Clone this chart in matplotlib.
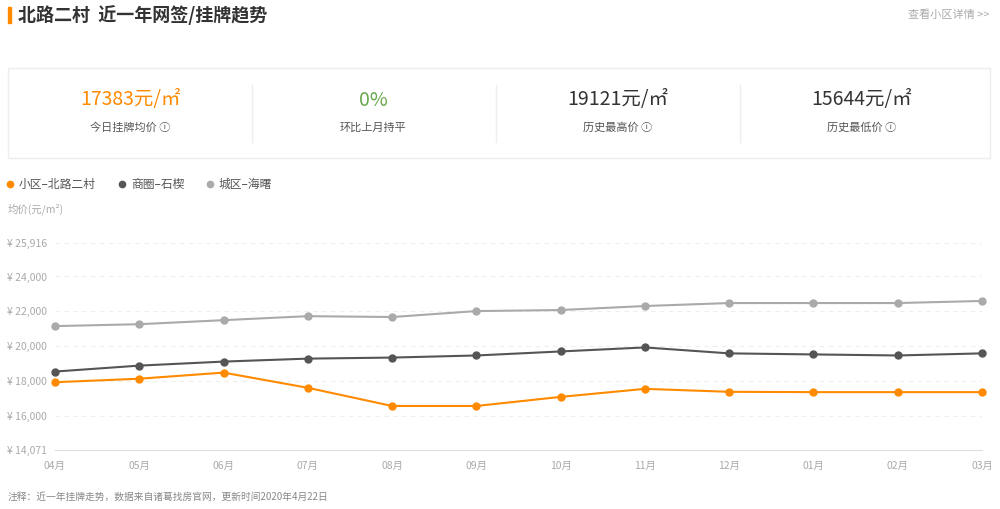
import matplotlib
matplotlib.use("Agg")
import matplotlib.pyplot as plt
from matplotlib.patches import Rectangle

plt.rcParams['font.family'] = ['Noto Sans CJK SC', 'DejaVu Sans']

months = ["04月","05月","06月","07月","08月","09月","10月","11月","12月","01月","02月","03月"]
community = [17950,18150,18500,17630,16590,16590,17110,17570,17400,17383,17383,17383]
district = [18560,18900,19130,19300,19360,19480,19710,19940,19600,19540,19480,19600]
city = [21160,21270,21500,21730,21680,22020,22080,22310,22480,22480,22480,22600]
yticks = [14071,16000,18000,20000,22000,24000,25916]
stat_values = ["17383元/㎡","0%","19121元/㎡","15644元/㎡"]
stat_labels = ["今日挂牌均价 ⓘ","环比上月持平","历史最高价 ⓘ","历史最低价 ⓘ"]
stat_colors = ["#ff8a00","#6aa84f","#333333","#333333"]

W, H = 1000, 509
fig = plt.figure(figsize=(10, 5.09), dpi=100)
def fx(x): return x / W
def fy(y): return 1 - y / H

fig.add_artist(Rectangle((fx(8), fy(23)), 3/W, 16/H, color="#ff8a00", transform=fig.transFigure))
fig.text(fx(18), fy(15), "北路二村  近一年网签/挂牌趋势", fontsize=13, color="#333333", va="center", weight="bold")
fig.text(fx(990), fy(15), "查看小区详情 >>", fontsize=8, color="#aaaaaa", va="center", ha="right")
fig.add_artist(Rectangle((fx(8), fy(158)), 982/W, 90/H, fill=False, edgecolor="#eeeeee", lw=1, transform=fig.transFigure))
centers = [130, 373, 618, 862]
for i, c in enumerate(centers):
    fig.text(fx(c), fy(100), stat_values[i], fontsize=14, color=stat_colors[i], ha="center", va="center")
    fig.text(fx(c), fy(128), stat_labels[i], fontsize=8, color="#555555", ha="center", va="center")
for xd in [252, 496, 740]:
    fig.add_artist(plt.Line2D([fx(xd), fx(xd)], [fy(85), fy(142)], color="#eeeeee", lw=1))

# legend
leg = [("小区–北路二村", "#ff8a00", 10), ("商圈–石楔", "#555555", 122), ("城区–海曙", "#aaaaaa", 210)]
for name, col, x in leg:
    fig.add_artist(plt.Line2D([fx(x)], [fy(184)], marker="o", color=col, markersize=4.5, transform=fig.transFigure))
    fig.text(fx(x + 9), fy(184), name, fontsize=8.5, color="#555555", va="center")
fig.text(fx(8), fy(209), "均价(元/m²)", fontsize=7.5, color="#aaaaaa", va="center")

ax = fig.add_axes([fx(55), fy(450), (982 - 55) / W, (450 - 243) / H])
x = list(range(len(months)))
ax.plot(x, city, color="#aaaaaa", marker="o", markersize=5, lw=1.5)
ax.plot(x, district, color="#555555", marker="o", markersize=5, lw=1.5)
ax.plot(x, community, color="#ff8a00", marker="o", markersize=5, lw=1.5)
ax.set_ylim(14071, 25916)
ax.set_xlim(0, 11)
ax.set_yticks(yticks)
ax.set_yticklabels(["¥ {:,}".format(v) for v in yticks], fontsize=7.5, color="#aaaaaa")
ax.set_xticks(x)
ax.set_xticklabels(months, fontsize=7.5, color="#aaaaaa")
ax.grid(axis="y", color="#eeeeee", ls=(0, (4, 4)), lw=0.8)
for s in ["top", "right", "left"]:
    ax.spines[s].set_visible(False)
ax.spines["bottom"].set_color("#dddddd")
ax.tick_params(length=0, pad=8)
ax.tick_params(axis="y", pad=6)
ax.set_clip_on(False)
for l in ax.lines: l.set_clip_on(False)

fig.text(fx(8), fy(497), "注释：近一年挂牌走势，数据来自诸葛找房官网，更新时间2020年4月22日", fontsize=7, color="#888888", va="center")
fig.savefig("out.png", dpi=100, facecolor="white")
